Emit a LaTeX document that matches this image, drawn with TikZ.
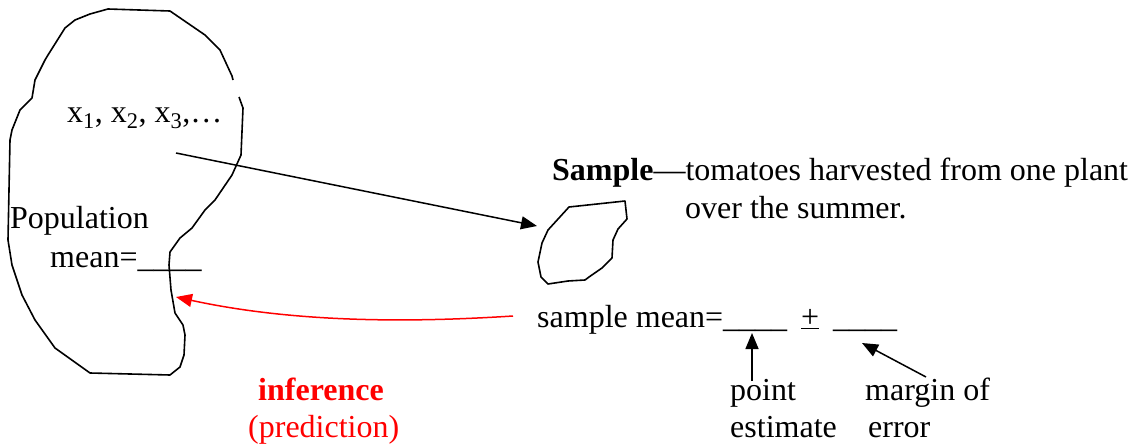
\documentclass[tikz,border=0pt]{standalone}
\usepackage{fontspec}
\setmainfont{Liberation Serif}
\usetikzlibrary{arrows.meta}
\definecolor{infred}{RGB}{255,0,0}
\tikzset{
  txt/.style={anchor=base west, inner sep=0pt, font=\fontsize{32}{38}\selectfont},
  blob/.style={draw=black, line width=1.6pt, line join=round},
  conn/.style={draw=black, line width=1.5pt, -{Triangle[length=16pt,width=13pt]}},
  redconn/.style={draw=infred, line width=1.5pt, -{Triangle[length=16pt,width=13pt]}}
}
\begin{document}
\begin{tikzpicture}[x=1pt,y=-1pt]
\useasboundingbox (0,0) rectangle (1135,444);
% population blob
\draw[blob] (233,80) -- (232,76) -- (220,50) -- (205,35) -- (170,11) -- (108,9) -- (90,14) -- (75,20) -- (65,28) -- (48,55) -- (45,60) -- (35,80) -- (32,98) -- (20,110) -- (12,130) -- (10,140) -- (8,240) -- (12,265) -- (22,295) -- (35,320) -- (55,348) -- (90,373) -- (170,375) -- (180,367) -- (184,355) -- (185,335) -- (183,325) -- (175,313) -- (171,290) -- (169,265) -- (170,252) -- (180,238) -- (192,228) -- (205,210) -- (215,200) -- (232,175) -- (241,155) -- (243,108) -- (239,97);
% sample blob
\draw[blob] (569,207) -- (625,201) -- (627,219) -- (618,229) -- (613,240) -- (612,258) -- (602,268) -- (589,277) -- (585,280) -- (568,281) -- (548,284) -- (541,277) -- (538,262) -- (542,243) -- (548,230) -- cycle;
% texts
\node[txt] (xs) at (67,122) {x\textsubscript{1}, x\textsubscript{2}, x\textsubscript{3},\ldots};
\node[txt] (pop) at (10,228) {Population};
\node[txt] (pmean) at (50,267) {mean=\_\_\_\_};
\node[txt] (samp) at (552,180) {\textbf{Sample}—tomatoes harvested from one plant};
\node[txt] (summer) at (685,218) {over the summer.};
\node[txt] (smean) at (537,327) {sample mean=\_\_\_\_\hspace{14pt}\underline{+}\hspace{14pt}\_\_\_\_};
\node[txt] (point) at (730,400) {point};
\node[txt] (estimate) at (730,437) {estimate};
\node[txt] (margin) at (865,400) {margin of};
\node[txt] (error) at (868,437) {error};
\node[txt, text=infred] (inf) at (258,400) {\textbf{inference}};
\node[txt, text=infred] (pred) at (248,437) {(prediction)};
% connectors
\coordinate (xfrom) at (176,153);
\coordinate (sampin) at (537,226);
\draw[conn] (xfrom) -- (sampin);
\coordinate (redfrom) at (513,316);
\coordinate (popin) at (176,297);
\draw[redconn] (redfrom) .. controls (420,322) and (300,324) .. (popin);
\coordinate (pefrom) at (752,381);
\coordinate (peto) at (752,333);
\draw[conn] (pefrom) -- (peto);
\coordinate (mefrom) at (926,377);
\coordinate (meto) at (862,343);
\draw[conn] (mefrom) -- (meto);
\end{tikzpicture}
\end{document}
